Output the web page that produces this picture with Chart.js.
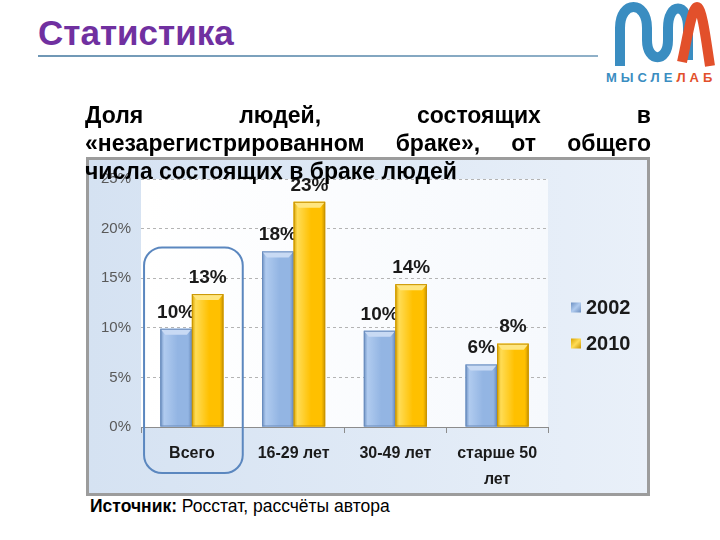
<!DOCTYPE html>
<html>
<head>
<meta charset="utf-8">
<script src="https://cdn.jsdelivr.net/npm/chart.js@4.4.0/dist/chart.umd.min.js"></script>
<style>
  body { margin: 0; width: 720px; height: 540px; background: #fff; position: relative; overflow: hidden;
         font-family: "Liberation Sans", Arial, sans-serif; }
  #title { position: absolute; left: 38px; top: 13px; font-size: 35px; line-height: 40px; font-weight: bold; color: #7030a0; }
  #rule { position: absolute; left: 38px; top: 55px; width: 560px; height: 2px;
          background: linear-gradient(to right, #6f97b5, #8fb0c8); }
  #logo { position: absolute; left: 600px; top: 0; }
  #heading { position: absolute; left: 85px; top: 101px; width: 566px; font-size: 23px; line-height: 28px;
             font-weight: bold; color: #000; z-index: 2; }
  #heading .j { text-align: justify; text-align-last: justify; }
  #box { position: absolute; left: 86px; top: 157px; width: 558px; height: 333px; border: 3px solid #9c9c9c;
         background: linear-gradient(to right, #d5e2f2, #e9f0f9); }
  #src { position: absolute; left: 90px; top: 495px; font-size: 17.5px; line-height: 22px; color: #000; }
</style>
</head>
<body>
<div id="title">Статистика</div>
<div id="rule"></div>
<svg id="logo" width="120" height="90">
  <path d="M20,66 L20,28 C20,0 47,0 47,28 L47,40 C47,63 68,63 68,40 L68,28 C68,2 88,2 88,28 L88,60"
        fill="none" stroke="#3a8dc1" stroke-width="10"/>
  <path d="M82,62 C87,40 92,7 97,7 C102,7 106,40 110,66"
        fill="none" stroke="#e2502b" stroke-width="10"/>
  <text x="6" y="82" font-size="13" font-weight="bold" letter-spacing="4" font-family="Liberation Sans, Arial, sans-serif">
    <tspan fill="#3a8dc1">МЫСЛЕ</tspan><tspan fill="#e2502b">ЛАБ</tspan>
  </text>
</svg>
<div id="heading">
  <div class="j">Доля людей, состоящих в</div>
  <div class="j">«незарегистрированном браке», от общего</div>
  <div>числа состоящих в браке людей</div>
</div>
<div id="box"><canvas id="chart" width="558" height="333"></canvas></div>
<div id="src"><b>Источник:</b> Росстат, рассчёты автора</div>

<script>
const categories = ['Всего', '16-29 лет', '30-49 лет', ['старше 50', 'лет']];
const seriesNames = ['2002', '2010'];
const values2002 = [9.9, 17.7, 9.7, 6.3];
const values2010 = [13.4, 22.7, 14.4, 8.4];
const yTicks = [0, 5, 10, 15, 20, 25];
const highlightTop = 18;

const baseColors = ['#8fb3e2', '#ffc000'];
const shades = [
  ['#6d91c3', '#b0cbef', '#93b5e3', '#6a8cbd'],
  ['#d9a300', '#ffdc55', '#ffc000', '#c99400']
];
const capColors = ['#c8daf4', '#ffe680'];

Chart.defaults.font.family = '"Liberation Sans", Arial, sans-serif';

const plotBg = {
  id: 'plotBg',
  beforeDraw(chart) {
    const { ctx, chartArea: a } = chart;
    ctx.save();
    const g = ctx.createLinearGradient(a.left, 0, a.right, 0);
    g.addColorStop(0, '#ffffff');
    g.addColorStop(1, '#f6f9fd');
    ctx.fillStyle = g;
    ctx.fillRect(a.left, a.top, a.right - a.left, a.bottom - a.top);
    ctx.restore();
  }
};

const barDecor = {
  id: 'barDecor',
  afterDatasetsDraw(chart) {
    const ctx = chart.ctx;
    ctx.save();
    chart.data.datasets.forEach((ds, di) => {
      chart.getDatasetMeta(di).data.forEach((el, i) => {
        const l = el.x - el.width / 2, w = el.width, t = el.y, h = el.base - el.y;
        const g = ctx.createLinearGradient(l, 0, l + w, 0);
        g.addColorStop(0, shades[di][0]);
        g.addColorStop(0.12, shades[di][1]);
        g.addColorStop(0.55, shades[di][2]);
        g.addColorStop(0.88, shades[di][2]);
        g.addColorStop(1, shades[di][3]);
        ctx.fillStyle = g;
        ctx.fillRect(l, t, w, h);
        // top bevel
        ctx.fillStyle = capColors[di];
        ctx.beginPath();
        ctx.moveTo(l, t);
        ctx.lineTo(l + w, t);
        ctx.lineTo(l + w - 5, t + 6);
        ctx.lineTo(l + 5, t + 6);
        ctx.closePath();
        ctx.fill();
        ctx.strokeStyle = shades[di][3];
        ctx.lineWidth = 1;
        ctx.strokeRect(l + 0.5, t + 0.5, w - 1, h - 1);
        // value label
        ctx.fillStyle = '#1a1a1a';
        ctx.font = 'bold 19px "Liberation Sans", Arial, sans-serif';
        ctx.textAlign = 'center';
        ctx.textBaseline = 'bottom';
        ctx.fillText(Math.round(ds.data[i]) + '%', el.x, t - 7);
      });
    });
    ctx.restore();
  }
};

const overlay = {
  id: 'overlay',
  afterDraw(chart) {
    const { ctx, chartArea: a, scales: { x, y } } = chart;
    ctx.save();
    // highlight around the first category
    const cw = (a.right - a.left) / categories.length;
    const cx = x.getPixelForValue(0);
    const l = cx - cw * 0.47, r = cx + cw * 0.5;
    const t = y.getPixelForValue(highlightTop) - 1, b = a.bottom + 46;
    ctx.strokeStyle = '#5b87bf';
    ctx.lineWidth = 2;
    ctx.beginPath();
    ctx.roundRect(l, t, r - l, b - t, 18);
    ctx.stroke();
    // legend
    const mid = chart.height / 2;
    chart.data.datasets.forEach((ds, di) => {
      const yy = mid - 19 + di * 36;
      const lx = a.right + 23;
      const g = ctx.createLinearGradient(lx, yy - 5, lx + 10, yy + 5);
      g.addColorStop(0, shades[di][0]);
      g.addColorStop(0.5, shades[di][1]);
      g.addColorStop(1, shades[di][3]);
      ctx.fillStyle = g;
      ctx.fillRect(lx, yy - 5, 10, 10);
      ctx.fillStyle = '#1a1a1a';
      ctx.font = 'bold 20px "Liberation Sans", Arial, sans-serif';
      ctx.textAlign = 'left';
      ctx.textBaseline = 'middle';
      ctx.fillText(ds.label, lx + 15, yy + 1);
    });
    ctx.restore();
  }
};

new Chart(document.getElementById('chart'), {
  type: 'bar',
  data: {
    labels: categories,
    datasets: [
      { label: seriesNames[0], data: values2002, backgroundColor: baseColors[0] },
      { label: seriesNames[1], data: values2010, backgroundColor: baseColors[1] }
    ]
  },
  options: {
    responsive: false,
    animation: false,
    layout: { padding: { top: 11, right: 99, left: 0, bottom: 0 } },
    datasets: { bar: { barPercentage: 1, categoryPercentage: 0.62 } },
    plugins: { legend: { display: false }, tooltip: { enabled: false } },
    scales: {
      x: {
        afterFit(s) { s.height = 66; },
        grid: { display: true, drawOnChartArea: false, drawTicks: true, tickLength: 6, color: '#8c8c8c', offset: true },
        border: { display: true, color: '#8c8c8c' },
        ticks: { padding: 8, color: '#1a1a1a', font: { size: 16, weight: 'bold', lineHeight: 1.6 }, maxRotation: 0 }
      },
      y: {
        min: 0, max: 25,
        afterFit(s) { s.width = 52; },
        afterBuildTicks(s) { s.ticks = yTicks.map(v => ({ value: v })); },
        grid: { color: '#b4b4b4', drawTicks: false },
        border: { display: false, dash: [3, 3] },
        ticks: { padding: 10, color: '#595959', font: { size: 15 }, callback: v => v + '%' }
      }
    }
  },
  plugins: [plotBg, barDecor, overlay]
});
</script>
</body>
</html>
